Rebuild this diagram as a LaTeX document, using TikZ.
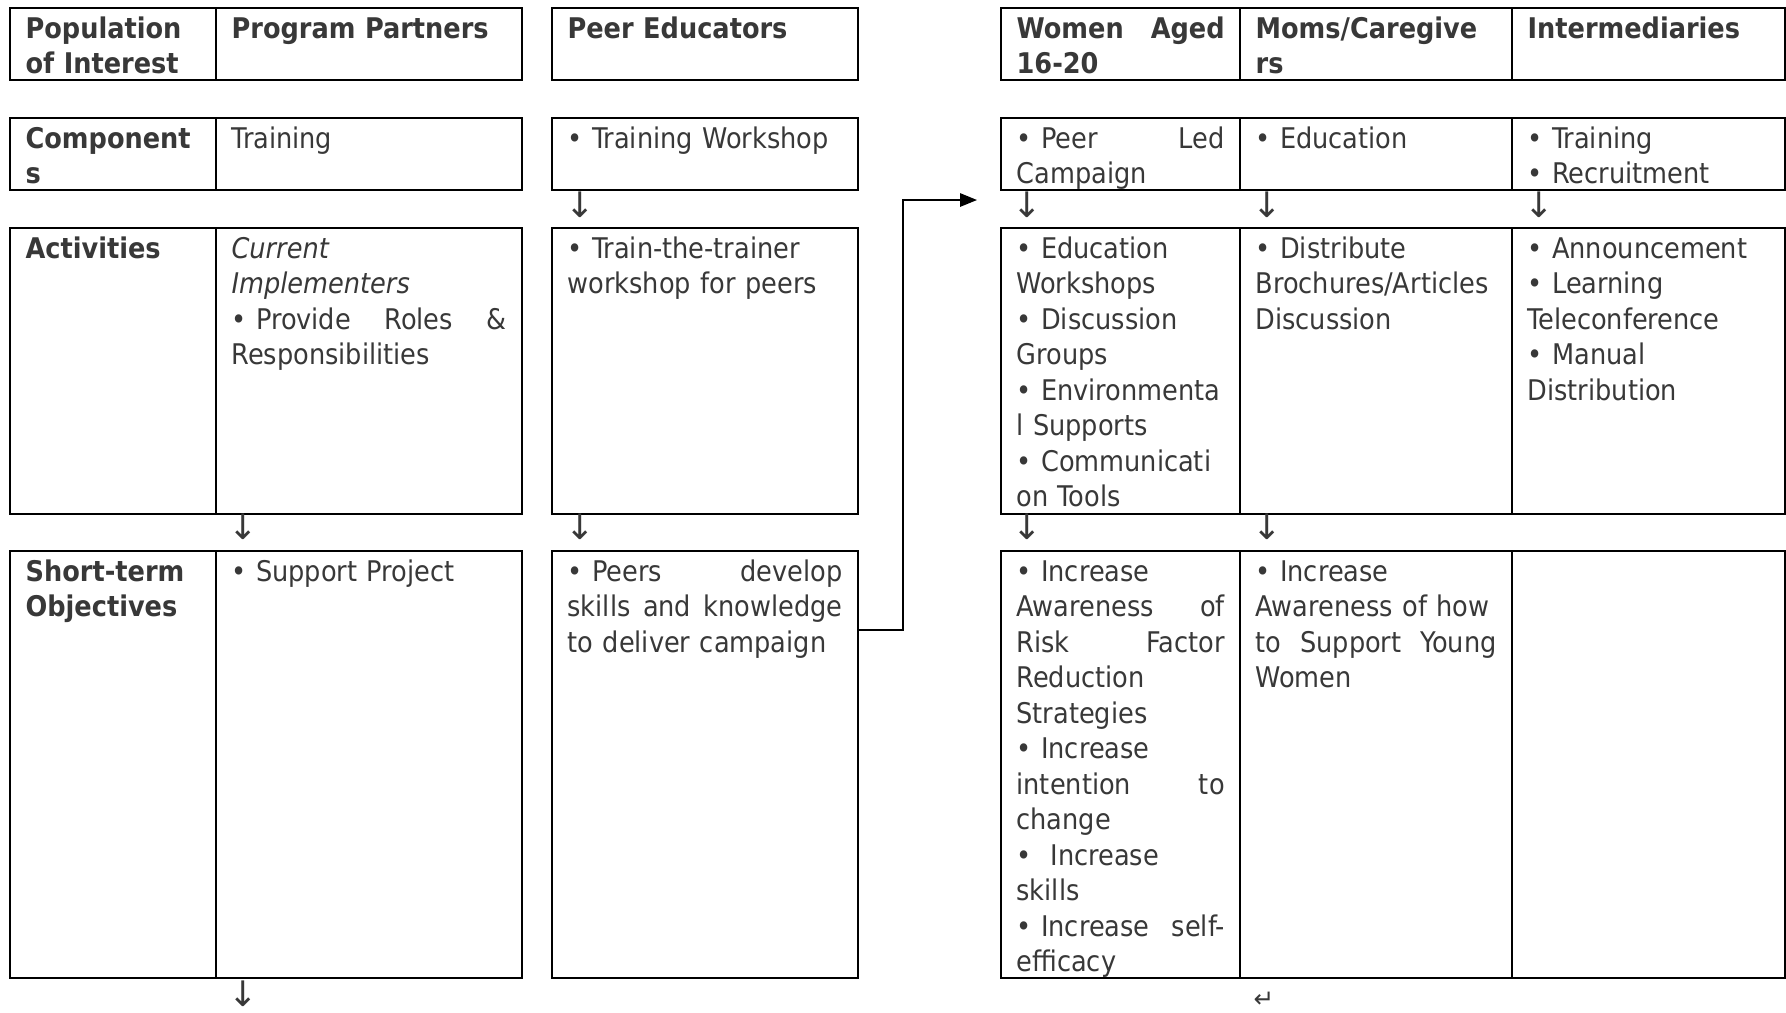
\documentclass[tikz,border=0pt]{standalone}
\usepackage{fontspec}
\setmainfont{DejaVu Sans Condensed}
\newfontfamily\arrowfont{DejaVu Sans}
\usetikzlibrary{arrows.meta, calc}

\tikzset{
	cell/.style 2 args={draw=black, text=black!78, line width=0.65pt, anchor=north west, align=left,
		inner xsep=4.4pt, inner ysep=0pt,
		text width={#1*0.1mm-8.8pt}, text height=8.5pt, text depth={#2*0.1mm-8.5pt},
		font=\fontsize{8.1pt}{10.1pt}\selectfont},
	head/.style 2 args={cell={#1}{#2}, font=\fontsize{8.1pt}{10.1pt}\selectfont\bfseries},
	down/.style={inner sep=0pt, text=black!78, font=\arrowfont\fontsize{10pt}{11pt}\selectfont},
	link/.style={line width=0.45pt, -{Triangle[length=4.8pt, width=3.8pt]}},
}

\begin{document}
\begin{tikzpicture}[x=0.1mm, y=-0.1mm]
	\useasboundingbox (0,0) rectangle (1786,1012);
	% program partners
	\node [head={206}{72}] (pop) at (9,7) {Population\\of Interest};
	\node [head={306}{72}] (pphead) at (215,7) {Program Partners};
	\node [head={206}{72}] (comp) at (9,117) {Component\\s};
	\node [cell={306}{72}] (ppcomp) at (215,117) {Training};
	\node [head={206}{286}] (act) at (9,227) {Activities};
	\node [cell={306}{286}] (ppact) at (215,227) {\textit{Current}\\\textit{Implementers}\\\textbullet{} Provide \hfill Roles \hfill \&\\Responsibilities};
	\node [head={206}{427}] (obj) at (9,550) {Short-term\\Objectives};
	\node [cell={306}{427}] (ppobj) at (215,550) {\textbullet{} Support Project};
	% peer educators
	\node [head={306}{72}] (pehead) at (551,7) {Peer Educators};
	\node [cell={306}{72}] (pecomp) at (551,117) {\textbullet{} Training Workshop};
	\node [cell={306}{286}] (peact) at (551,227) {\textbullet{} Train-the-trainer\\workshop for peers};
	\node [cell={306}{427}] (peobj) at (551,550) {\textbullet{} Peers \hfill develop\\skills \hfill and \hfill knowledge\\to deliver campaign};
	% women, moms, intermediaries
	\node [head={239}{72}] (wohead) at (1000,7) {Women \hfill Aged\\16-20};
	\node [head={272}{72}] (mohead) at (1239,7) {Moms/Caregive\\rs};
	\node [head={273}{72}] (inhead) at (1511,7) {Intermediaries};
	\node [cell={239}{72}] (wocomp) at (1000,117) {\textbullet{} Peer \hfill Led\\Campaign};
	\node [cell={272}{72}] (mocomp) at (1239,117) {\textbullet{} Education};
	\node [cell={273}{72}] (incomp) at (1511,117) {\textbullet{} Training\\\textbullet{} Recruitment};
	\node [cell={239}{286}] (woact) at (1000,227) {\textbullet{} Education\\Workshops\\\textbullet{} Discussion\\Groups\\\textbullet{} Environmenta\\l Supports\\\textbullet{} Communicati\\on Tools};
	\node [cell={272}{286}] (moact) at (1239,227) {\textbullet{} Distribute\\Brochures/Articles\\Discussion};
	\node [cell={273}{286}] (inact) at (1511,227) {\textbullet{} Announcement\\\textbullet{} Learning\\Teleconference\\\textbullet{} Manual\\Distribution};
	\node [cell={239}{427}] (woobj) at (1000,550) {\textbullet{} Increase\\Awareness \hfill of\\Risk \hfill Factor\\Reduction\\Strategies\\\textbullet{} Increase\\intention \hfill to\\change\\\textbullet{}\ \ Increase\\skills\\\textbullet{} Increase \hfill self-\\efficacy};
	\node [cell={272}{427}] (moobj) at (1239,550) {\textbullet{} Increase\\Awareness of how\\to \hfill Support \hfill Young\\Women};
	\node [cell={273}{427}] (inobj) at (1511,550) {};
	% arrows between rows
	\node [down] (d1) at (580,205) {↓};
	\node [down] (d2) at (1027,205) {↓};
	\node [down] (d3) at (1267,205) {↓};
	\node [down] (d4) at (1539,205) {↓};
	\node [down] (d5) at (243,527) {↓};
	\node [down] (d6) at (580,527) {↓};
	\node [down] (d7) at (1027,527) {↓};
	\node [down] (d8) at (1267,527) {↓};
	\node [down] (d9) at (243,994) {↓};
	\node [down, font=\arrowfont\fontsize{7pt}{8pt}\selectfont] (ret) at (1264,1000) {↵};
	% peers feed the campaign
	\coordinate (bend) at (903,200);
	\coordinate (tip) at (977,200);
	\draw [link] ($(peobj.north east)+(0,80)$) -| (bend) -- (tip);
\end{tikzpicture}
\end{document}
